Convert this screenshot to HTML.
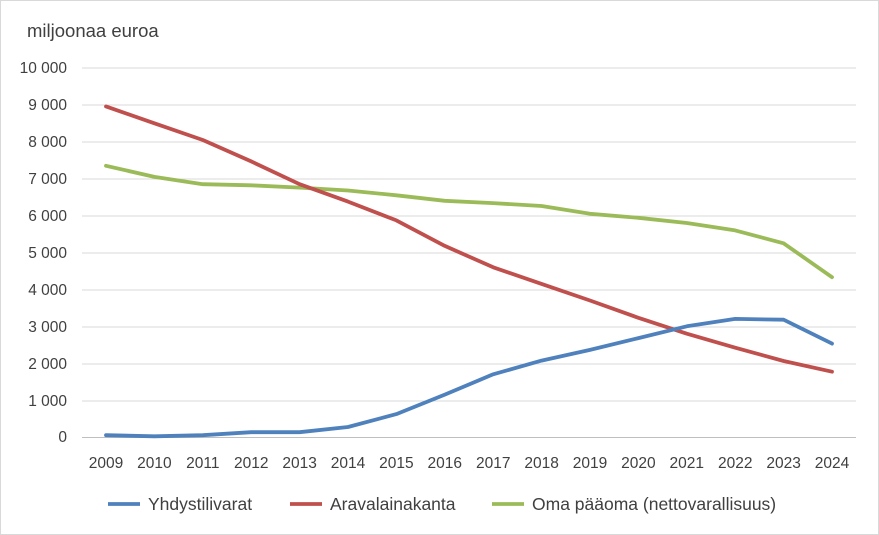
<!DOCTYPE html>
<html><head><meta charset="utf-8"><style>
body{margin:0;background:#fff}
svg{display:block;font-family:"Liberation Sans",sans-serif}
</style></head><body>
<svg width="879" height="535" viewBox="0 0 879 535">
<rect x="0.5" y="0.5" width="878" height="534" fill="#fff" stroke="#d9d9d9"/>
<text x="27" y="37" font-size="18.5" fill="#404040">miljoonaa euroa</text>
<g stroke="#d9d9d9" stroke-width="1">
<line x1="82" x2="856" y1="68" y2="68"/><line x1="82" x2="856" y1="105" y2="105"/>
<line x1="82" x2="856" y1="142" y2="142"/><line x1="82" x2="856" y1="179" y2="179"/>
<line x1="82" x2="856" y1="216" y2="216"/><line x1="82" x2="856" y1="253" y2="253"/>
<line x1="82" x2="856" y1="290" y2="290"/><line x1="82" x2="856" y1="327" y2="327"/>
<line x1="82" x2="856" y1="364" y2="364"/><line x1="82" x2="856" y1="401" y2="401"/>
<line x1="82" x2="856" y1="437.5" y2="437.5" stroke="#bfbfbf"/>
</g>
<g font-size="15.5" fill="#404040" text-anchor="end">
<text x="67" y="73">10 000</text><text x="67" y="110">9 000</text><text x="67" y="147">8 000</text>
<text x="67" y="184">7 000</text><text x="67" y="221">6 000</text><text x="67" y="258">5 000</text>
<text x="67" y="295">4 000</text><text x="67" y="332">3 000</text><text x="67" y="369">2 000</text>
<text x="67" y="406">1 000</text><text x="67" y="442">0</text>
</g>
<g font-size="15.5" fill="#404040" text-anchor="middle">
<text x="106" y="468">2009</text><text x="154.4" y="468">2010</text><text x="202.8" y="468">2011</text>
<text x="251.2" y="468">2012</text><text x="299.6" y="468">2013</text><text x="348" y="468">2014</text>
<text x="396.4" y="468">2015</text><text x="444.8" y="468">2016</text><text x="493.2" y="468">2017</text>
<text x="541.6" y="468">2018</text><text x="590" y="468">2019</text><text x="638.4" y="468">2020</text>
<text x="686.8" y="468">2021</text><text x="735.2" y="468">2022</text><text x="783.6" y="468">2023</text>
<text x="832" y="468">2024</text>
</g>
<g fill="none" stroke-width="3.8" stroke-linejoin="round" stroke-linecap="round">
<polyline stroke="#9BBB59" points="106,165.8 154.4,176.9 202.8,184.2 251.2,185.3 299.6,187.6 348,190.5 396.4,195.3 444.8,200.8 493.2,203.1 541.6,206 590,213.8 638.4,217.8 686.8,223 735.2,230.4 783.6,243.3 832,277.2"/>
<polyline stroke="#C0504D" points="106,106.4 154.4,123.3 202.8,140 251.2,161.4 299.6,184.2 348,201.6 396.4,220.4 444.8,245.9 493.2,267.3 541.6,283.9 590,300.5 638.4,317.8 686.8,333.7 735.2,347.7 783.6,361 832,371.7"/>
<polyline stroke="#4F81BD" points="106,435.2 154.4,436.3 202.8,435.2 251.2,432.2 299.6,432.2 348,427 396.4,414.1 444.8,394.6 493.2,374.3 541.6,360.6 590,349.9 638.4,338.1 686.8,326.3 735.2,318.9 783.6,319.7 832,343.6"/>
</g>
<g stroke-width="3.8">
<line x1="108" x2="140" y1="504" y2="504" stroke="#4F81BD"/>
<line x1="290" x2="322" y1="504" y2="504" stroke="#C0504D"/>
<line x1="492" x2="524" y1="504" y2="504" stroke="#9BBB59"/>
</g>
<g font-size="17.5" fill="#404040">
<text x="148" y="510">Yhdystilivarat</text>
<text x="330" y="510">Aravalainakanta</text>
<text x="532" y="510">Oma pääoma (nettovarallisuus)</text>
</g>
</svg>
</body></html>
